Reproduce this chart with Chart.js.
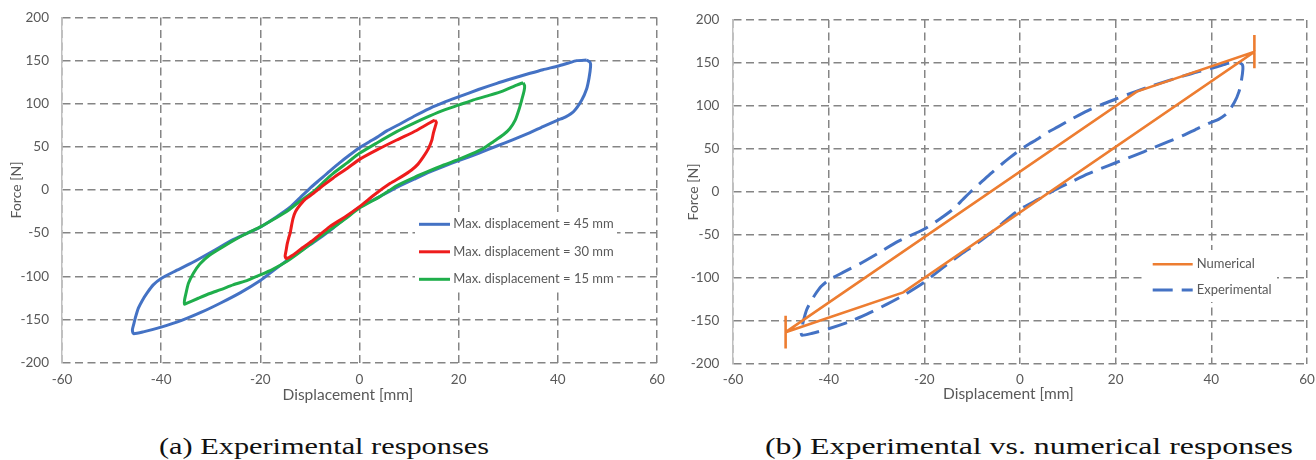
<!DOCTYPE html>
<html>
<head>
<meta charset="utf-8">
<script src="https://cdn.jsdelivr.net/npm/chart.js@4.4.1/dist/chart.umd.min.js"></script>
<style>
  html, body { margin: 0; padding: 0; background: #ffffff; }
  body { width: 1316px; height: 460px; position: relative; overflow: hidden; }
  #chartA { position: absolute; left: 0; top: 0; }
  #chartB { position: absolute; left: 660px; top: 0; }
  .cap {
    position: absolute; top: 434px; height: 24px; line-height: 24px;
    font-family: "Liberation Serif", "DejaVu Serif", serif; font-size: 24px;
    color: #111111; white-space: nowrap; transform-origin: 0 50%;
  }
</style>
</head>
<body>
<canvas id="chartA" width="680" height="420"></canvas>
<canvas id="chartB" width="656" height="420"></canvas>
<div class="cap" id="capA" data-left="159" data-width="330">(a) Experimental responses</div>
<div class="cap" id="capB" data-left="765" data-width="528">(b) Experimental vs. numerical responses</div>

<script>
// Axis ticks
const displacementTicks = [-60, -40, -20, 0, 20, 40, 60];
const forceTicks = [-200, -150, -100, -50, 0, 50, 100, 150, 200];

// Hysteresis loop, max. displacement 45 mm (also the experimental curve in panel b)
const loop45X = [45.8, 46.5, 46.6, 46.3, 45.8, 44.8, 43.2, 41.5, 40.0, 37.0, 34.4, 31.0, 27.7, 24.0, 20.0, 17.0, 14.2, 11.0, 7.5, 4.0, 0.0, -3.0, -5.5, -9.3, -12.0, -14.7, -17.5, -20.0, -24.0, -28.0, -32.0, -36.0, -40.0, -43.6, -45.6, -45.8, -45.5, -45.2, -44.6, -43.8, -42.9, -41.6, -40.0, -37.0, -33.5, -29.6, -25.5, -20.0, -16.7, -14.0, -12.0, -10.0, -8.0, -6.0, -3.9, -2.0, 0.0, 2.0, 3.5, 5.5, 8.0, 11.0, 14.2, 17.0, 20.1, 24.0, 27.7, 31.0, 34.4, 37.0, 40.1, 42.0, 43.8, 45.8];
const loop45Y = [150.7, 148, 143, 130, 117, 104, 91, 84.5, 81, 73.5, 66.5, 58.5, 51, 42.5, 34, 27.5, 21, 12.5, 3, -8, -20, -33, -45, -61, -71, -82, -94, -105, -119, -131, -142, -151.5, -159, -164.5, -166.5, -162, -155, -148, -137, -128, -119.8, -110, -102.5, -93.5, -83.5, -71, -57.5, -43, -31, -20, -9, 2, 12, 22, 32, 40.5, 49, 56, 61, 68.5, 76, 85.5, 94.7, 101.5, 108.2, 116.5, 123.7, 129.5, 135.3, 139.5, 143.8, 147, 150, 150.7];

// Hysteresis loop, max. displacement 30 mm
const loop30X = [15.2, 15.5, 15.3, 14.9, 14.6, 13.9, 12.9, 11.8, 10.5, 8.5, 6.2, 3.0, 0.0, -3.0, -6.0, -9.3, -11.5, -13.4, -14.8, -15.0, -14.8, -14.6, -14.3, -14.0, -13.7, -13.4, -12.9, -12.0, -10.8, -9.3, -7.5, -5.3, -2.5, 0.0, 3.5, 7.5, 11.5, 14.2, 15.2];
const loop30Y = [81.2, 78.5, 74, 66, 58, 48, 38.6, 30, 23.2, 15.5, 7.7, -5.5, -19.3, -31.5, -42.5, -58, -67, -75.4, -79.5, -76.5, -70, -63, -56, -50.2, -41, -32.8, -25, -17.4, -10, -3.9, 4.5, 14, 25, 35.5, 46.5, 58, 69, 78, 81.2];

// Hysteresis loop, max. displacement 15 mm
const loop15X = [33.0, 33.3, 33.2, 32.7, 32.2, 31.4, 30.3, 29.0, 27.0, 25.0, 22.5, 20.0, 17.0, 14.2, 11.0, 7.5, 4.0, 0.0, -3.0, -6.0, -9.3, -12.0, -14.7, -17.5, -20.0, -22.5, -25.5, -28.0, -30.2, -32.5, -34.9, -35.3, -35.3, -35.0, -34.5, -33.5, -32.2, -30.2, -27.5, -23.4, -19.9, -17.3, -14.7, -12.0, -9.3, -7.3, -5.3, -2.5, 0.0, 3.5, 7.5, 11.0, 14.2, 17.0, 20.1, 23.0, 26.3, 29.0, 31.7, 33.0];
const loop15Y = [124.4, 121, 115, 104, 94, 81, 71, 64, 56, 48.3, 41.5, 35.5, 29, 22.4, 14.5, 5, -8, -21, -34, -46.4, -60, -72, -83, -92, -98.5, -104.5, -110, -115.5, -120, -125.5, -131.4, -132.5, -128, -119.8, -108.2, -96.6, -85.8, -75.4, -65.7, -52.2, -42.5, -34, -25, -13, -2, 9, 19.3, 31.5, 42.5, 54.5, 67.6, 77.5, 85.8, 92.5, 98.6, 104.5, 110, 115, 121.7, 124.4];

// Numerical model response (bilinear loop with force jumps at reversal)
const numericalX = [-49, 24.4, 49, 49, 49, 49, -24.4, -49, -49, -49, -49];
const numericalY = [-163, 116.7, 163, 182.5, 144, 163, -116.7, -163, -144, -182, -163];

const FONT = 'Lato, "Open Sans", sans-serif';
const TEXT_COLOR = '#595959';
const GRID_COLOR = '#858585';
const GRID_DASH = [8, 4.5];
const X_TITLE = 'Displacement [mm]\u2002\u2002\u2002';

const pts = (xs, ys) => xs.map((x, i) => ({ x: x, y: ys[i] }));

// Legend drawn on a white box inside the plot area (covers grid lines only)
const insideLegend = {
  id: 'insideLegend',
  beforeDatasetsDraw(chart, args, opts) {
    const { ctx, chartArea } = chart;
    const L = chartArea.left, T = chartArea.top;
    ctx.save();
    ctx.fillStyle = '#ffffff';
    ctx.fillRect(L + opts.box[0], T + opts.box[1], opts.box[2], opts.box[3]);
    ctx.font = '13px ' + FONT;
    ctx.textBaseline = 'middle';
    ctx.textAlign = 'left';
    chart.data.datasets.forEach((ds, i) => {
      const y = T + opts.rowTop + i * opts.rowGap;
      ctx.strokeStyle = ds.borderColor;
      ctx.lineWidth = ds.borderWidth;
      ctx.setLineDash(ds.borderDash || []);
      ctx.beginPath();
      ctx.moveTo(L + opts.lineX0, y);
      ctx.lineTo(L + opts.lineX1, y);
      ctx.stroke();
      ctx.setLineDash([]);
      ctx.fillStyle = TEXT_COLOR;
      ctx.fillText(ds.label, L + opts.textX, y);
    });
    ctx.restore();
  }
};

function scales(c) {
  return {
    x: {
      type: 'linear', min: -60, max: 60,
      afterBuildTicks: s => { s.ticks = displacementTicks.map(v => ({ value: v })); },
      afterFit: s => { s.height = c.xHeight; s.paddingLeft = 0; s.paddingRight = 0; },
      ticks: { padding: c.xTickPad, color: TEXT_COLOR, font: { family: FONT, size: 13.5 }, maxRotation: 0, autoSkip: false, callback: v => String(v) },
      grid: { color: GRID_COLOR, lineWidth: 1.5, drawTicks: false, borderDash: GRID_DASH },
      border: { display: false, dash: GRID_DASH },
      title: { display: true, text: X_TITLE, color: TEXT_COLOR, font: { family: FONT, size: 15.5 }, padding: { top: 0, bottom: c.xTitlePad } }
    },
    y: {
      type: 'linear', min: -200, max: 200,
      afterBuildTicks: s => { s.ticks = forceTicks.map(v => ({ value: v })); },
      afterFit: s => { s.width = 62; s.paddingTop = 0; s.paddingBottom = 0; },
      ticks: { padding: c.yTickPad, color: TEXT_COLOR, font: { family: FONT, size: 13.5 }, autoSkip: false, callback: v => String(v) },
      grid: { color: GRID_COLOR, lineWidth: 1.5, drawTicks: false, borderDash: GRID_DASH },
      border: { display: true, color: '#bfbfbf', width: 1.5, dash: GRID_DASH },
      title: { display: true, text: 'Force [N]', color: TEXT_COLOR, font: { family: FONT, size: 14 }, padding: { top: c.yTitlePad, bottom: 0 } }
    }
  };
}

const lineDefaults = { showLine: true, pointRadius: 0, pointHoverRadius: 0, fill: false, tension: 0.2 };

new Chart(document.getElementById('chartA'), {
  type: 'scatter',
  data: {
    datasets: [
      Object.assign({ label: 'Max. displacement = 45 mm', data: pts(loop45X, loop45Y), borderColor: '#4472c4', borderWidth: 3, order: 3 }, lineDefaults),
      Object.assign({ label: 'Max. displacement = 30 mm', data: pts(loop30X, loop30Y), borderColor: '#ee1c1c', borderWidth: 3, order: 1 }, lineDefaults),
      Object.assign({ label: 'Max. displacement = 15 mm', data: pts(loop15X, loop15Y), borderColor: '#1fae4b', borderWidth: 3, order: 2 }, lineDefaults)
    ]
  },
  options: {
    responsive: false, animation: false, devicePixelRatio: 1,
    layout: { padding: { left: 0, top: 17.5, right: 23, bottom: 9.5 } },
    scales: scales({ xHeight: 48, xTickPad: 9, xTitlePad: 6.5, yTickPad: 13, yTitlePad: 8.3 }),
    plugins: {
      legend: { display: false }, tooltip: { enabled: false },
      insideLegend: { box: [353, 194.5, 202, 80], rowTop: 206.8, rowGap: 27.5, lineX0: 357, lineX1: 388, textX: 391.3 }
    }
  },
  plugins: [insideLegend]
});

new Chart(document.getElementById('chartB'), {
  type: 'scatter',
  data: {
    datasets: [
      Object.assign({ label: 'Numerical', data: pts(numericalX, numericalY), borderColor: '#ed7d31', borderWidth: 2.6 }, lineDefaults, { tension: 0 }),
      Object.assign({ label: 'Experimental', data: pts(loop45X, loop45Y), borderColor: '#4472c4', borderWidth: 3, borderDash: [20, 9] }, lineDefaults)
    ]
  },
  options: {
    responsive: false, animation: false, devicePixelRatio: 1,
    layout: { padding: { left: 11, top: 20, right: 9, bottom: 8 } },
    scales: scales({ xHeight: 48, xTickPad: 7.7, xTitlePad: 9, yTickPad: 13.7, yTitlePad: 13.9 }),
    plugins: {
      legend: { display: false }, tooltip: { enabled: false },
      insideLegend: { box: [410, 230, 134, 52], rowTop: 244.3, rowGap: 25.7, lineX0: 419.7, lineX1: 459.7, textX: 463.7 }
    }
  },
  plugins: [insideLegend]
});

// Sub-figure captions, stretched to their column widths
document.querySelectorAll('.cap').forEach(el => {
  const w = el.getBoundingClientRect().width;
  const target = parseFloat(el.dataset.width);
  el.style.left = el.dataset.left + 'px';
  el.style.transform = 'scaleX(' + (target / w).toFixed(3) + ')';
});
</script>
</body>
</html>
